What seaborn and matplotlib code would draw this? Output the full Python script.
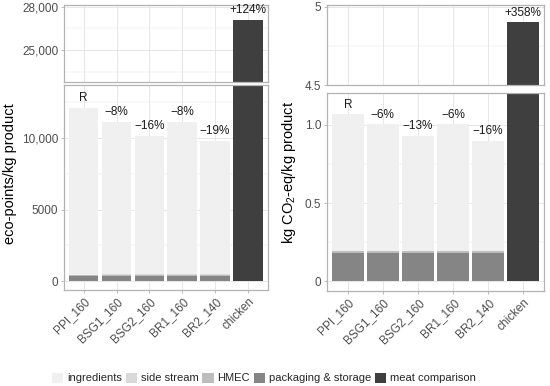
import matplotlib
matplotlib.use("Agg")
import seaborn as sns
import matplotlib.pyplot as plt
import pandas as pd
from matplotlib.patches import Patch
from matplotlib.ticker import FixedLocator

# Products and stack components
products = ['PPI_160', 'BSG1_160', 'BSG2_160', 'BR1_160', 'BR2_140', 'chicken']
components = ['ingredients', 'side stream', 'HMEC', 'packaging & storage', 'meat comparison']
colors = ['#f0f0f0', '#d9d9d9', '#bdbdbd', '#858585', '#3f3f3f']

# eco-points / kg product
eco_ingredients = [11670, 10690, 9680, 10690, 9340, 0]
eco_side_stream = [0, 30, 40, 30, 30, 0]
eco_hmec = [50, 50, 50, 50, 50, 0]
eco_packaging = [380, 380, 380, 380, 380, 0]
eco_meat = [0, 0, 0, 0, 0, 27100]
eco_labels = ['R', '\u22128%', '\u221216%', '\u22128%', '\u221219%', '+124%']

# kg CO2-eq / kg product
co2_ingredients = [0.880, 0.812, 0.736, 0.812, 0.707, 0]
co2_side_stream = [0, 0.003, 0.004, 0.003, 0.003, 0]
co2_hmec = [0.010, 0.010, 0.010, 0.010, 0.010, 0]
co2_packaging = [0.180, 0.180, 0.180, 0.180, 0.180, 0]
co2_meat = [0, 0, 0, 0, 0, 4.9]
co2_labels = ['R', '\u22126%', '\u221213%', '\u22126%', '\u221216%', '+358%']

eco_df = pd.DataFrame({'product': products, 'ingredients': eco_ingredients,
                       'side stream': eco_side_stream, 'HMEC': eco_hmec,
                       'packaging & storage': eco_packaging, 'meat comparison': eco_meat})
co2_df = pd.DataFrame({'product': products, 'ingredients': co2_ingredients,
                       'side stream': co2_side_stream, 'HMEC': co2_hmec,
                       'packaging & storage': co2_packaging, 'meat comparison': co2_meat})

palette = dict(zip(components, colors))
stack_order = ['packaging & storage', 'HMEC', 'side stream', 'ingredients', 'meat comparison']

sns.set_style("whitegrid")
plt.rcParams['font.family'] = ['Liberation Sans', 'DejaVu Sans']

border = '#b3b3b3'
grid_col = '#e3e3e3'
tick_col = '#4d4d4d'


def draw_panel(ax, df, labels, ylim, ticks, ticklabels, minor, top=False):
    cum = df[stack_order].cumsum(axis=1)
    # layered bars: tallest cumulative first
    for comp in reversed(stack_order):
        sns.barplot(x=df['product'], y=cum[comp], order=products, color=palette[comp],
                    width=0.9, saturation=1, linewidth=0, errorbar=None, ax=ax)
    totals = cum[stack_order[-1]]
    for i, (lab, tot) in enumerate(zip(labels, totals)):
        show = (products[i] == 'chicken') == top
        if show:
            ax.annotate(lab, (i, tot), xytext=(0, 2.5), textcoords='offset points',
                        ha='center', va='bottom', fontsize=8.5, color='#1a1a1a')
    ax.set_xlim(-0.6, 5.6)
    ax.set_ylim(*ylim)
    ax.set_yticks(ticks)
    ax.set_yticklabels(ticklabels)
    ax.yaxis.set_minor_locator(FixedLocator(minor))
    ax.set_axisbelow(True)
    ax.grid(which='major', color=grid_col, linewidth=0.6)
    ax.grid(which='minor', axis='y', color=grid_col, linewidth=0.35)
    ax.xaxis.grid(True)
    ax.set_xlabel('')
    ax.set_ylabel('')
    for sp in ax.spines.values():
        sp.set_visible(True)
        sp.set_color(border)
        sp.set_linewidth(0.9)
    ax.tick_params(which='major', length=2.5, width=0.6, color=border, labelsize=8.5,
                   labelcolor=tick_col, pad=1.5)
    ax.tick_params(which='minor', length=0)
    ax.tick_params(axis='x', bottom=True, left=False)
    ax.tick_params(axis='y', left=True)
    if top:
        ax.tick_params(axis='x', length=0, labelbottom=False)
    else:
        ax.set_xticks(range(len(products)))
        ax.set_xticklabels(products, rotation=45, ha='right', rotation_mode='anchor')


fig = plt.figure(figsize=(5.5, 3.86), dpi=100)
W, H = 550, 386


def add_ax(x0, x1, y0, y1):
    return fig.add_axes([x0 / W, 1 - y1 / H, (x1 - x0) / W, (y1 - y0) / H])


ax_lt = add_ax(64, 267.7, 4.7, 81.7)
ax_lb = add_ax(64, 267.7, 85, 290)
ax_rt = add_ax(326.7, 544.3, 4.7, 85)
ax_rb = add_ax(326.7, 544.3, 93.3, 290.7)

draw_panel(ax_lt, eco_df, eco_labels, (22803, 28139), [25000, 28000], ['25,000', '28,000'],
           [23500, 26500], top=True)
draw_panel(ax_lb, eco_df, eco_labels, (-629, 13706), [0, 5000, 10000], ['0', '5000', '10,000'],
           [2500, 7500, 12500])
draw_panel(ax_rt, co2_df, co2_labels, (4.5, 5.013), [4.5, 5.0], ['4.5', '5'], [4.75], top=True)
draw_panel(ax_rb, co2_df, co2_labels, (-0.062, 1.203), [0, 0.5, 1.0], ['0', '0.5', '1.0'],
           [0.25, 0.75])

fig.text(10 / W, 1 - 173.5 / H, 'eco-points/kg product', rotation=90, ha='center', va='center',
         fontsize=10.5, color='black')
fig.text(289 / W, 1 - 172.5 / H, r'kg CO$_\mathregular{2}$-eq/kg product', rotation=90,
         ha='center', va='center', fontsize=10.5, color='black')

handles = [Patch(facecolor=c, edgecolor='none', label=l) for l, c in zip(components, colors)]
fig.legend(handles=handles, loc='center', bbox_to_anchor=(264 / W, 8 / H), ncol=5, frameon=False,
           fontsize=8, handlelength=1.0, handleheight=1.0, handletextpad=0.35, columnspacing=0.35)

fig.savefig('out.png', dpi=100)
